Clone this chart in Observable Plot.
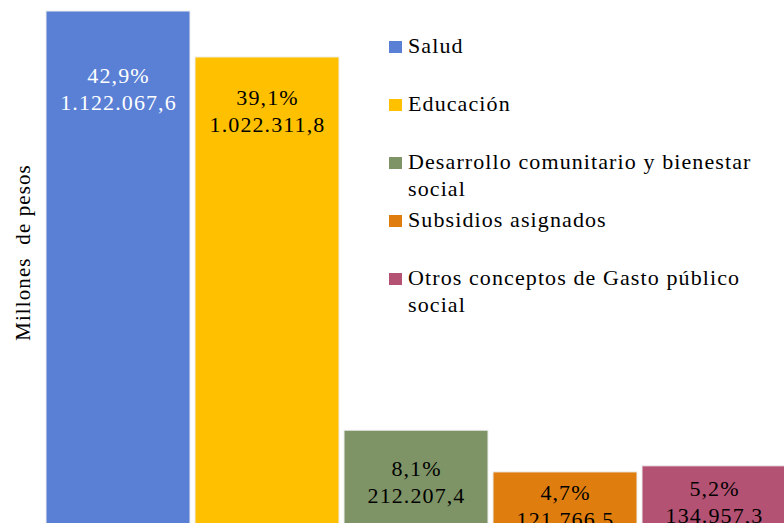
<!DOCTYPE html>
<html><head><meta charset="utf-8">
<script src="https://cdn.jsdelivr.net/npm/d3@7"></script>
<script src="https://cdn.jsdelivr.net/npm/@observablehq/plot@0.6"></script>
<style>
html,body{margin:0;padding:0;background:#fff;overflow:hidden}
#wrap{position:relative;width:784px;height:523px;overflow:hidden;font-family:"Liberation Serif","Times New Roman","Tinos","DejaVu Serif",serif}
#wrap svg text{letter-spacing:1.1px}
#legend{position:absolute;left:389px;top:32px;}
.item{position:relative;height:58px;}
.sw{position:absolute;left:0;top:9px;width:13px;height:12px}
.lab{position:absolute;left:19px;top:0;width:376px;font-size:22px;line-height:27px;letter-spacing:1.1px;color:#000;white-space:normal}
</style></head><body><div id="wrap"></div>
<script>
const categories = ["Salud", "Educación", "Desarrollo comunitario y bienestar social", "Subsidios asignados", "Otros conceptos de Gasto público social"];
const values = [1122067.6, 1022311.8, 212207.4, 121766.5, 134957.3];
const colors = ["#5A80D6", "#FFC000", "#7E9466", "#DF7E0E", "#B45273"];
const yLabel = "Millones  de pesos";

const loc = d3.formatLocale({decimal: ",", thousands: ".", grouping: [3], currency: ["", ""]});
const num = loc.format(",.1f");
const pct = loc.format(".1%");
const total = d3.sum(values);
const rows = categories.map((c, i) => ({cat: c, value: values[i], label: pct(values[i] / total) + "\n" + num(values[i])}));

// layout: per-bar vertical offset of the value label (px)
const labelDy = [52, 28, 26, 8, 10];

const font = "'Liberation Serif', 'Times New Roman', Tinos, 'DejaVu Serif', serif";
const plot = Plot.plot({
  width: 784, height: 523,
  marginTop: 11, marginBottom: 0, marginLeft: 0, marginRight: 0,
  style: {fontFamily: font, background: "transparent"},
  x: {domain: categories, range: [46, 786], paddingInner: 5 / 149, paddingOuter: 0, axis: null},
  y: {domain: [0, d3.max(values)], range: [528, 11], axis: null},
  color: {domain: categories, range: colors},
  marks: [
    Plot.barY(rows, {x: "cat", y: "value", fill: "cat", stroke: "#eeeeee", strokeWidth: 1}),
    ...rows.map((r, i) => Plot.text([r], {
      x: "cat", y: "value", text: "label", lineAnchor: "top", dy: labelDy[i],
      fill: i === 0 ? "white" : "black", fontSize: 22, lineHeight: 1.23
    })),
    Plot.text([yLabel], {text: d => d, frameAnchor: "left", textAnchor: "middle", rotate: -90, dx: 23, dy: -15, fontSize: 21, fill: "black"})
  ]
});
const wrap = document.getElementById("wrap");
wrap.appendChild(plot);

const legend = document.createElement("div");
legend.id = "legend";
categories.forEach((c, i) => {
  const item = document.createElement("div");
  item.className = "item";
  const sw = document.createElement("div");
  sw.className = "sw";
  sw.style.background = colors[i];
  const lab = document.createElement("div");
  lab.className = "lab";
  lab.textContent = c;
  item.appendChild(sw);
  item.appendChild(lab);
  legend.appendChild(item);
});
wrap.appendChild(legend);
</script></body></html>
